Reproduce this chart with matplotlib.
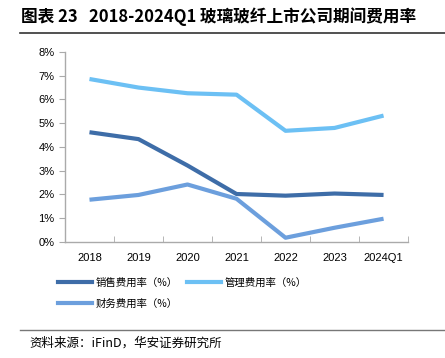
import matplotlib
matplotlib.use("Agg")
import matplotlib.pyplot as plt
from matplotlib.ticker import FixedLocator, FuncFormatter
from matplotlib.lines import Line2D

plt.rcParams['font.family'] = ['Noto Sans CJK SC', 'DejaVu Sans']

categories = ['2018', '2019', '2020', '2021', '2022', '2023', '2024Q1']
sales = [4.62, 4.33, 3.22, 2.02, 1.95, 2.04, 1.98]
admin = [6.86, 6.50, 6.26, 6.20, 4.68, 4.80, 5.32]
finance = [1.78, 1.98, 2.42, 1.82, 0.18, 0.60, 0.98]
series_names = ['销售费用率（%）', '管理费用率（%）', '财务费用率（%）']
colors = ['#3E6DA8', '#6CC0F4', '#6C9FDD']

fig = plt.figure(figsize=(4.45, 3.58), dpi=100)
ax = fig.add_axes([0.146, 0.324, 0.771, 0.531])

x = list(range(len(categories)))
for vals, c, n in zip([sales, admin, finance], colors, series_names):
    ax.plot(x, vals, color=c, lw=3, solid_capstyle='butt', label=n)

ax.set_xlim(-0.5, len(categories) - 0.5)
ax.set_ylim(0, 8)
ax.yaxis.set_major_locator(FixedLocator(range(0, 9)))
ax.yaxis.set_major_formatter(FuncFormatter(lambda v, p: f'{int(v)}%'))
ax.set_xticks(x)
ax.set_xticklabels(categories)
ax.xaxis.set_minor_locator(FixedLocator([i + 0.5 for i in range(-1, len(categories))]))
ax.tick_params(axis='x', which='major', length=0, pad=8, labelsize=8)
ax.tick_params(axis='x', which='minor', length=4, color='#aaaaaa', direction='in')
ax.tick_params(axis='y', length=4, color='#aaaaaa', labelsize=8, direction='out')
for lbl in ax.get_xticklabels() + ax.get_yticklabels():
    lbl.set_fontfamily('Liberation Sans')
for s in ['top', 'right']:
    ax.spines[s].set_visible(False)
for s in ['left', 'bottom']:
    ax.spines[s].set_color('#aaaaaa')
    ax.spines[s].set_linewidth(1)

handles = [Line2D([0], [0], color=c, lw=3) for c in colors]
order = [0, 2, 1]
fig.legend([handles[i] for i in order], [series_names[i] for i in order],
           loc='upper left', bbox_to_anchor=(0.11, 0.25),
           ncol=2, frameon=False, fontsize=7.5, handlelength=3.2, columnspacing=0.9,
           labelspacing=1.0, handletextpad=0.4)

fig.text(0.047, 0.953, '图表 23   2018-2024Q1 玻璃玻纤上市公司期间费用率', fontsize=12,
         fontweight='bold', va='center', ha='left')
fig.add_artist(Line2D([0.045, 1.0], [0.908, 0.908], color='#333333', lw=1.2))
fig.add_artist(Line2D([0.045, 1.0], [0.078, 0.078], color='#777777', lw=1))
fig.text(0.067, 0.042, '资料来源：iFinD，华安证券研究所', fontsize=9, va='center', ha='left')

fig.savefig('out.png', dpi=100)
